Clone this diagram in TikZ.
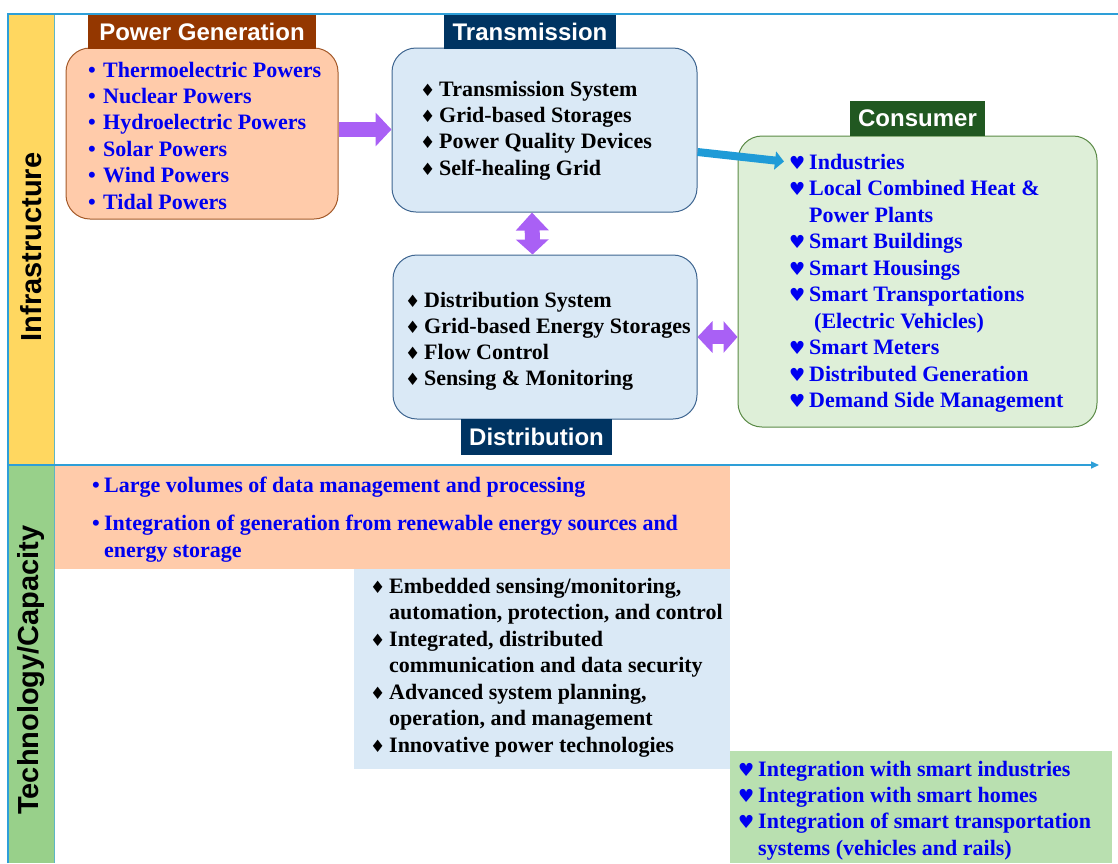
\documentclass[tikz,border=0pt]{standalone}
\usepackage{fontspec}
\setmainfont{Liberation Serif}
\setsansfont{Liberation Sans}
\newfontfamily\symfont{DejaVu Sans}
\usetikzlibrary{arrows.meta}

\definecolor{stripyellow}{HTML}{FFD760}
\definecolor{stripgreen}{HTML}{98D08A}
\definecolor{stripline}{HTML}{5DB5C5}
\definecolor{frameblue}{HTML}{2E9FD8}
\definecolor{peachfill}{HTML}{FFCBAA}
\definecolor{genborder}{HTML}{A45A2A}
\definecolor{genhead}{HTML}{943700}
\definecolor{navy}{HTML}{003462}
\definecolor{palblue}{HTML}{DAE9F6}
\definecolor{boxborder}{HTML}{3E6590}
\definecolor{consgreen}{HTML}{215821}
\definecolor{palgreen}{HTML}{DEEFD8}
\definecolor{consborder}{HTML}{5A8A46}
\definecolor{techgreen}{HTML}{B9E0B0}
\definecolor{itemblue}{HTML}{0000F0}
\definecolor{flowpurple}{HTML}{A960F5}
\definecolor{flowblue}{HTML}{1F9BD7}

\newcommand{\sym}[2]{\makebox[#1][l]{#2}}
\newcommand{\gbul}{\sym{15pt}{•}}
\newcommand{\pbul}{\sym{12pt}{•}}
\newcommand{\dmd}{\sym{19pt}{\symfont\fontsize{17}{17}\selectfont ♦}}
\newcommand{\hrt}{\sym{20pt}{\symfont\fontsize{18}{18}\selectfont ♥}}

\begin{document}
\begin{tikzpicture}[x=1pt,y=-1pt,
  head/.style={fill=#1, text=white, inner sep=0pt,
    font=\sffamily\bfseries\fontsize{24}{24}\selectfont},
  panel/.style={rounded corners=24pt, line width=1pt},
  item/.style={anchor=base west, inner sep=0pt,
    font=\bfseries\fontsize{22}{26}\selectfont},
  striplabel/.style={rotate=90,
    font=\sffamily\bfseries\fontsize{29}{29}\selectfont},
  flow/.style={flowpurple, line width=15pt}]

\useasboundingbox (0,0) rectangle (1118,863);

% side strips
\fill[stripyellow] (8,14) rectangle (54,465);
\fill[stripgreen]  (8,465) rectangle (54,863);
\node[striplabel] (infra) at (31,247) {Infrastructure};
\node[striplabel] (tech)  at (31,670) {Technology/Capacity};

% technology / capacity panels
\fill[peachfill] ( 55,466) rectangle ( 730,569);
\fill[palblue]   (354,569) rectangle ( 730,769);
\fill[techgreen] (730,751) rectangle (1112,863);

% frame
\draw[stripline, line width=1.2pt] (54.5,14) -- (54.5,863);
\draw[frameblue, line width=2pt] (8,863) -- (8,14) -- (1118,14);
\draw[frameblue, line width=1.5pt, -{Triangle[width=7pt,length=8pt]}]
  (8,465) -- (1099,465);

% infrastructure panels
\node[panel, draw=genborder, fill=peachfill,
  minimum width=272pt, minimum height=171pt] (gen) at (202,133.5) {};
\node[panel, draw=boxborder, fill=palblue,
  minimum width=305pt, minimum height=164pt] (trans) at (544.5,130) {};
\node[panel, draw=boxborder, fill=palblue,
  minimum width=304pt, minimum height=164pt] (dist) at (545,337) {};
\node[panel, draw=consborder, fill=palgreen,
  minimum width=359pt, minimum height=291pt] (cons) at (917.5,281.5) {};

\node[head=genhead,   minimum width=228pt, minimum height=34pt] (genhd)   at (202,32)    {Power Generation};
\node[head=navy,      minimum width=172pt, minimum height=34pt] (transhd) at (530,32)    {Transmission};
\node[head=navy,      minimum width=151pt, minimum height=36pt] (disthd)  at (536.5,437) {Distribution};
\node[head=consgreen, minimum width=135pt, minimum height=35pt] (conshd)  at (917.5,118.5) {Consumer};

% item lists
\foreach \t [count=\i] in {Thermoelectric Powers, Nuclear Powers,
    Hydroelectric Powers, Solar Powers, Wind Powers, Tidal Powers}
  \node[item, text=itemblue] (gen-\i) at (88,{77+26.4*(\i-1)}) {\gbul\t};

\foreach \t [count=\i] in {Transmission System, Grid-based Storages,
    Power Quality Devices, Self-healing Grid}
  \node[item] (trans-\i) at (420,{96+26.4*(\i-1)}) {\dmd\t};

\foreach \t [count=\i] in {Distribution System, Grid-based Energy Storages,
    Flow Control, Sensing \& Monitoring}
  \node[item] (dist-\i) at (405,{307+26*(\i-1)}) {\dmd\t};

\foreach \t [count=\i] in {\hrt Industries, \hrt Local Combined Heat \&,
    \hspace{20pt}Power Plants, \hrt Smart Buildings, \hrt Smart Housings,
    \hrt Smart Transportations, \hspace{25pt}(Electric Vehicles),
    \hrt Smart Meters, \hrt Distributed Generation, \hrt Demand Side Management}
  \node[item, text=itemblue] (cons-\i) at (789,{169+26.5*(\i-1)}) {\t};

\node[item, text=itemblue] (peach-1) at (92,492) {\pbul Large volumes of data management and processing};
\node[item, text=itemblue] (peach-2) at (92,530) {\pbul Integration of generation from renewable energy sources and};
\node[item, text=itemblue] (peach-3) at (104,557) {energy storage};

\foreach \t [count=\i] in {{\dmd Embedded sensing/monitoring,},
    {\hspace{19pt}automation, protection, and control},
    {\dmd Integrated, distributed},
    {\hspace{19pt}communication and data security},
    {\dmd Advanced system planning,},
    {\hspace{19pt}operation, and management},
    {\dmd Innovative power technologies}}
  \node[item] (blue-\i) at (370,{593+26.5*(\i-1)}) {\t};

\foreach \t [count=\i] in {\hrt Integration with smart industries,
    \hrt Integration with smart homes,
    \hrt Integration of smart transportation,
    \hspace{20pt}systems (vehicles and rails)}
  \node[item, text=itemblue] (green-\i) at (738,{776+26.4*(\i-1)}) {\t};

% flows
\draw[flow, -{Triangle[width=33pt,length=16pt]}]
  ([yshift=4pt]gen.east) -- ([yshift=4pt]gen.east -| trans.west);
\draw[flow, {Triangle[width=32pt,length=18pt]}-{Triangle[width=32pt,length=15pt]}]
  ([xshift=-12.5pt]trans.south) -- ([xshift=-12.5pt]dist.north);
\draw[flow, line width=14pt, {Triangle[width=31pt,length=15pt]}-{Triangle[width=31pt,length=14pt]}]
  (dist.east) -- (dist.east -| cons.west);
\draw[flowblue, line width=8pt, -{Triangle[width=18pt,length=9pt]}]
  ([yshift=-22pt]trans.east) -- ([xshift=-5pt]cons-1.west);
\end{tikzpicture}
\end{document}
